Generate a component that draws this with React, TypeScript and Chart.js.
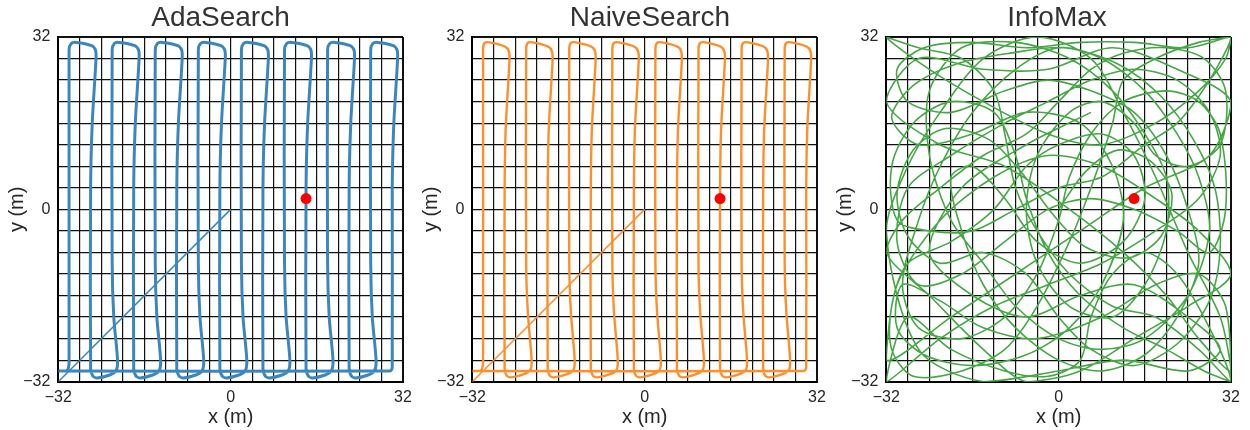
import React, { useEffect, useRef } from 'react';
import { Chart, registerables } from 'chart.js';

Chart.register(...registerables);

// ---------- data ----------
const AXIS_MIN = -32;
const AXIS_MAX = 32;
const GRID_STEP = 4;
const TICK_LABELS = [-32, 0, 32];
const PANEL_TITLES = ['AdaSearch', 'NaiveSearch', 'InfoMax'];
const TARGET = [[14, 2]];

const ADA_DIAGONAL = [[0, 0], [-32, -32]];
const ADA_PATH = [
  [-32, -30], [-30.4, -30], [-30, -28.5], [-30, 29.6], [-29.6, 30.8], [-28.7, 31], [-25.8, 30.4], [-25.1, 29.6], [-25, 28], [-25.7, 16], [-26, 4], [-26, -29.6], [-25.6, -30.9], [-24.8, -31.3], [-22.6, -30.8], [-21.3, -30], [-21, -28], [-21.7, -20], [-22, -10],
  [-22, 29.6], [-21.6, 30.8], [-20.7, 31], [-17.8, 30.4], [-17.1, 29.6], [-17, 28], [-17.7, 16], [-18, 4], [-18, -29.6], [-17.6, -30.9], [-16.8, -31.3], [-14.6, -30.8], [-13.3, -30], [-13, -28], [-13.7, -20], [-14, -10],
  [-14, 29.6], [-13.6, 30.8], [-12.7, 31], [-9.8, 30.4], [-9.1, 29.6], [-9, 28], [-9.7, 16], [-10, 4], [-10, -29.6], [-9.6, -30.9], [-8.8, -31.3], [-6.6, -30.8], [-5.3, -30], [-5, -28], [-5.7, -20], [-6, -10],
  [-6, 29.6], [-5.6, 30.8], [-4.7, 31], [-1.8, 30.4], [-1.1, 29.6], [-1, 28], [-1.7, 16], [-2, 4], [-2, -29.6], [-1.6, -30.9], [-0.8, -31.3], [1.4, -30.8], [2.7, -30], [3, -28], [2.3, -20], [2, -10],
  [2, 29.6], [2.4, 30.8], [3.3, 31], [6.2, 30.4], [6.9, 29.6], [7, 28], [6.3, 16], [6, 4], [6, -29.6], [6.4, -30.9], [7.2, -31.3], [9.4, -30.8], [10.7, -30], [11, -28], [10.3, -20], [10, -10],
  [10, 29.6], [10.4, 30.8], [11.3, 31], [14.2, 30.4], [14.9, 29.6], [15, 28], [14.3, 16], [14, 4], [14, -29.6], [14.4, -30.9], [15.2, -31.3], [17.4, -30.8], [18.7, -30], [19, -28], [18.3, -20], [18, -10],
  [18, 29.6], [18.4, 30.8], [19.3, 31], [22.2, 30.4], [22.9, 29.6], [23, 28], [22.3, 16], [22, 4], [22, -29.6], [22.4, -30.9], [23.2, -31.3], [25.4, -30.8], [26.7, -30], [27, -28], [26.3, -20], [26, -10],
  [26, 29.6], [26.4, 30.8], [27.3, 31], [30.2, 30.4], [30.9, 29.6], [31, 28], [30.3, 16], [30, 4], [30, -29.4], [29.6, -30], [-32, -30],
];

const NAIVE_DIAGONAL = [[0, 0], [-32, -32]];
const NAIVE_PATH = [
  [-32, -30], [-30.4, -30], [-30, -28.5], [-30, 29.8], [-29.7, 30.9], [-28.8, 31], [-25.9, 30.2], [-25.2, 29.3], [-25.1, 27.6], [-25.8, 15], [-26, 3], [-26, -29.6], [-25.6, -30.9], [-24.8, -31.2], [-22.4, -30.6], [-21.2, -29.8], [-21, -27.8], [-21.7, -19], [-22, -10],
  [-22, 29.8], [-21.7, 30.9], [-20.8, 31], [-17.9, 30.2], [-17.2, 29.3], [-17.1, 27.6], [-17.8, 15], [-18, 3], [-18, -29.6], [-17.6, -30.9], [-16.8, -31.2], [-14.4, -30.6], [-13.2, -29.8], [-13, -27.8], [-13.7, -19], [-14, -10],
  [-14, 29.8], [-13.7, 30.9], [-12.8, 31], [-9.9, 30.2], [-9.2, 29.3], [-9.1, 27.6], [-9.8, 15], [-10, 3], [-10, -29.6], [-9.6, -30.9], [-8.8, -31.2], [-6.4, -30.6], [-5.2, -29.8], [-5, -27.8], [-5.7, -19], [-6, -10],
  [-6, 29.8], [-5.7, 30.9], [-4.8, 31], [-1.9, 30.2], [-1.2, 29.3], [-1.1, 27.6], [-1.8, 15], [-2, 3], [-2, -29.6], [-1.6, -30.9], [-0.8, -31.2], [1.6, -30.6], [2.8, -29.8], [3, -27.8], [2.3, -19], [2, -10],
  [2, 29.8], [2.3, 30.9], [3.2, 31], [6.1, 30.2], [6.8, 29.3], [6.9, 27.6], [6.2, 15], [6, 3], [6, -29.6], [6.4, -30.9], [7.2, -31.2], [9.6, -30.6], [10.8, -29.8], [11, -27.8], [10.3, -19], [10, -10],
  [10, 29.8], [10.3, 30.9], [11.2, 31], [14.1, 30.2], [14.8, 29.3], [14.9, 27.6], [14.2, 15], [14, 3], [14, -29.6], [14.4, -30.9], [15.2, -31.2], [17.6, -30.6], [18.8, -29.8], [19, -27.8], [18.3, -19], [18, -10],
  [18, 29.8], [18.3, 30.9], [19.2, 31], [22.1, 30.2], [22.8, 29.3], [22.9, 27.6], [22.2, 15], [22, 3], [22, -29.6], [22.4, -30.9], [23.2, -31.2], [25.6, -30.6], [26.8, -29.8], [27, -27.8], [26.3, -19], [26, -10],
  [26, 29.8], [26.3, 30.9], [27.2, 31], [30.1, 30.2], [30.8, 29.3], [30.9, 27.6], [30.2, 15], [30, 3], [30, -29.4], [29.6, -30], [-32, -30],
];

const INFOMAX_PATH = [
  [0, 0], [5, 7], [11, 11], [17, 9], [21, 3], [19, -5], [13, -9], [5, -7], [-1, -1], [-7, 7],
  [-13, 13], [-21, 15], [-27, 11], [-30, 3], [-28, -5], [-22, -10], [-14, -8], [-6, -12], [0, -20], [6, -26],
  [14, -29], [22, -25], [28, -17], [30, -7], [29, 4], [25, 13], [19, 21], [11, 27], [1, 30], [-9, 29],
  [-19, 27], [-27, 23], [-31, 17], [-26, 12], [-16, 14], [-6, 18], [4, 16], [10, 8], [12, -2], [8, -14],
  [2, -22], [-6, -27], [-16, -29], [-25, -27], [-30, -22], [-29, -14], [-22, -17], [-14, -22], [-4, -24], [8, -20],
  [18, -14], [26, -12], [31, -18], [32, -32], [26, -26], [18, -20], [10, -18], [2, -12], [-4, -4], [-8, 4],
  [-10, 14], [-12, 22], [-18, 28], [-26, 30], [-32, 32], [-24, 26], [-14, 20], [-2, 14], [8, 12], [18, 16],
  [26, 22], [31, 28], [32, 32], [24, 30], [14, 31], [4, 31], [-6, 30], [-16, 31], [-25, 30], [-30, 26],
  [-28, 20], [-20, 18], [-10, 22], [-2, 24], [6, 22], [14, 18], [20, 10], [24, 0], [26, -10], [22, -20],
  [16, -27], [8, -30], [0, -28], [-8, -22], [-14, -14], [-18, -4], [-20, 6], [-16, 8], [-10, 2], [-4, -6],
  [4, -10], [12, -6], [16, 2], [14, 10], [8, 14], [0, 12], [-6, 8], [-12, 0], [-20, -6], [-28, -10],
  [-31, -18], [-31, -26], [-27, -31], [-18, -30], [-10, -26], [-4, -18], [2, -6], [6, 4], [10, 16], [12, 24],
  [18, 28], [26, 31], [32, 32], [28, 24], [22, 16], [16, 12], [8, 6], [0, 4], [-8, 0], [-16, -4],
  [-24, -4], [-30, -2], [-31, 8], [-27, 16], [-20, 20], [-12, 18], [-8, 10], [-6, 2], [-2, -8], [4, -16],
  [12, -22], [20, -26], [27, -30], [32, -32], [28, -22], [22, -12], [16, -8], [10, -12], [6, -20], [4, -28],
  [-2, -31], [-10, -30], [-20, -26], [-28, -20], [-32, -32], [-22, -24], [-12, -18], [-2, -14], [8, -10], [18, -4],
  [26, 2], [30, 10], [28, 18], [22, 24], [14, 26], [6, 24], [-2, 20], [-10, 16], [-20, 10], [-28, 4],
  [-30, -6], [-26, -14], [-18, -12], [-10, -6], [-2, 0], [6, 2], [14, 0], [22, -4], [28, -8], [31, 0],
  [30, 14], [26, 20], [20, 22], [12, 20], [6, 14], [2, 6], [0, -2], [-4, -12], [-10, -20], [-18, -24],
  [-26, -22], [-29, -14], [-26, -2], [-22, 8], [-16, 18], [-8, 26], [0, 30], [8, 28], [16, 22], [22, 14],
  [26, 6], [28, -4], [24, -16], [16, -24], [8, -26], [0, -24], [-8, -18], [-14, -10], [-20, -2], [-24, 10],
  [-24, 22], [-18, 30], [-8, 31], [2, 28], [10, 22], [16, 14], [20, 6], [20, -4], [16, -14], [10, -20],
  [2, -18], [-4, -10], [-6, 0], [-4, 10], [2, 18], [8, 20], [14, 16], [18, 10], [24, 8], [30, 12],
  [31, 22], [27, 28], [20, 30], [12, 29], [6, 26], [0, 20], [-6, 14], [-14, 10], [-22, 4], [-29, -2],
  [-32, -8], [-24, -16], [-14, -26], [-6, -32], [4, -30], [14, -24], [24, -18], [32, -12], [26, -4], [18, 2],
  [8, 8], [-2, 10], [-12, 6], [-22, -2], [-30, -14], [-32, -28], [-20, -20], [-8, -12], [4, -4], [16, 4],
  [28, 10], [32, 20], [22, 26], [10, 30], [-2, 26], [-14, 26], [-26, 28], [-32, 20], [-22, 12], [-10, 8],
  [2, 0], [12, -8], [20, -16], [26, -24], [32, -30], [30, -20], [24, -8], [18, 6], [12, 18], [6, 28],
  [-4, 32], [-14, 28], [-22, 18], [-28, 8], [-32, -4], [-26, -26], [-14, -32], [0, -30], [12, -28], [24, -30],
  [30, -26], [24, -20], [14, -14], [4, -16], [-6, -20], [-16, -16], [-24, -8], [-18, 4], [-6, 12], [6, 18],
];

// ---------- styling ----------
const FONT = '"Liberation Sans", Arial, Helvetica, sans-serif';
const TEXT_COLOR = '#262626';
const COLORS = ['#3a86bf', '#ff8f2a', '#45a845'];
const PANEL_W = 414;
const PANEL_H = 430;
const PANEL_LEFTS = [0, 414, 828.4];
const TITLE_CENTERS = [220.5, 236, 229];

const toXY = (arr: number[][]) => arr.map(([x, y]) => ({ x, y }));

function Panel({ index }: { index: number }) {
  const ref = useRef<HTMLCanvasElement | null>(null);
  useEffect(() => {
    if (!ref.current) return;
    const color = COLORS[index];
    const datasets: any[] = [
      {
        data: toXY(TARGET),
        pointRadius: 5.5,
        pointBackgroundColor: '#ff0000',
        pointBorderWidth: 0,
        showLine: false,
      },
    ];
    if (index === 0 || index === 1) {
      const path = index === 0 ? ADA_PATH : NAIVE_PATH;
      const diag = index === 0 ? ADA_DIAGONAL : NAIVE_DIAGONAL;
      datasets.push({
        data: toXY(path),
        showLine: true,
        borderColor: color,
        borderWidth: index === 0 ? 3 : 2.4,
        pointRadius: 0,
        tension: 0.25,
        fill: false,
      });
      datasets.push({
        data: toXY(diag),
        showLine: true,
        borderColor: color,
        borderWidth: 1.5,
        pointRadius: 0,
        tension: 0,
        fill: false,
      });
    } else {
      datasets.push({
        data: toXY(INFOMAX_PATH),
        showLine: true,
        borderColor: color,
        borderWidth: 1.6,
        pointRadius: 0,
        tension: 0.3,
        fill: false,
      });
    }

    const gridWidth = (ctx: any) =>
      ctx.tick && Math.abs(ctx.tick.value) === AXIS_MAX ? 2 : 1.2;

    const tickCb = (v: any) => {
      const n = Number(v);
      if (!TICK_LABELS.includes(n)) return '';
      return n < 0 ? '\u2212' + Math.abs(n) : String(n);
    };

    const titlePlugin = {
      id: 'panelTitle',
      afterDraw(chart: any) {
        const c = chart.ctx;
        c.save();
        c.font = `28px ${FONT}`;
        c.fillStyle = '#333333';
        c.textAlign = 'center';
        c.textBaseline = 'alphabetic';
        c.fillText(PANEL_TITLES[index], TITLE_CENTERS[index], 26);
        c.restore();
      },
    };

    const chart = new Chart(ref.current, {
      type: 'scatter',
      data: { datasets },
      plugins: [titlePlugin],
      options: {
        animation: false,
        responsive: false,
        events: [],
        layout: { padding: { left: 0, right: 11, top: 37, bottom: 0 } },
        plugins: {
          legend: { display: false },
          tooltip: { enabled: false },
          title: { display: false },
        },
        scales: {
          x: {
            type: 'linear',
            min: AXIS_MIN,
            max: AXIS_MAX,
            afterFit: (s: any) => {
              s.height = 48.3;
              s.paddingLeft = 0;
              s.paddingRight = 0;
            },
            ticks: {
              stepSize: GRID_STEP,
              autoSkip: false,
              maxRotation: 0,
              padding: 6,
              color: TEXT_COLOR,
              font: { family: FONT, size: 16 },
              callback: tickCb,
            },
            grid: { color: '#111111', lineWidth: gridWidth, drawTicks: false },
            border: { display: true, color: '#000000', width: 2 },
            title: {
              display: true,
              text: 'x (m)',
              color: TEXT_COLOR,
              font: { family: FONT, size: 20 },
              padding: { top: 0, bottom: 1 },
            },
          },
          y: {
            type: 'linear',
            min: AXIS_MIN,
            max: AXIS_MAX,
            afterFit: (s: any) => {
              s.width = 58.3;
              s.paddingTop = 0;
              s.paddingBottom = 0;
            },
            ticks: {
              stepSize: GRID_STEP,
              autoSkip: false,
              padding: 8,
              color: TEXT_COLOR,
              font: { family: FONT, size: 16 },
              callback: tickCb,
            },
            grid: { color: '#111111', lineWidth: gridWidth, drawTicks: false },
            border: { display: true, color: '#000000', width: 2 },
            title: {
              display: true,
              text: 'y (m)',
              color: TEXT_COLOR,
              font: { family: FONT, size: 20 },
              padding: { top: 5.5, bottom: 0 },
            },
          },
        },
      } as any,
    });
    return () => chart.destroy();
  }, [index]);

  return (
    <canvas
      ref={ref}
      width={PANEL_W}
      height={PANEL_H}
      style={{
        position: 'absolute',
        left: PANEL_LEFTS[index],
        top: 0,
        width: PANEL_W,
        height: PANEL_H,
        display: 'block',
      }}
    />
  );
}

export default function App() {
  return (
    <div
      style={{
        position: 'absolute',
        left: 0,
        top: 0,
        width: 1250,
        height: 430,
        background: '#ffffff',
        overflow: 'hidden',
      }}
    >
      {[0, 1, 2].map((i) => (
        <Panel key={i} index={i} />
      ))}
    </div>
  );
}
